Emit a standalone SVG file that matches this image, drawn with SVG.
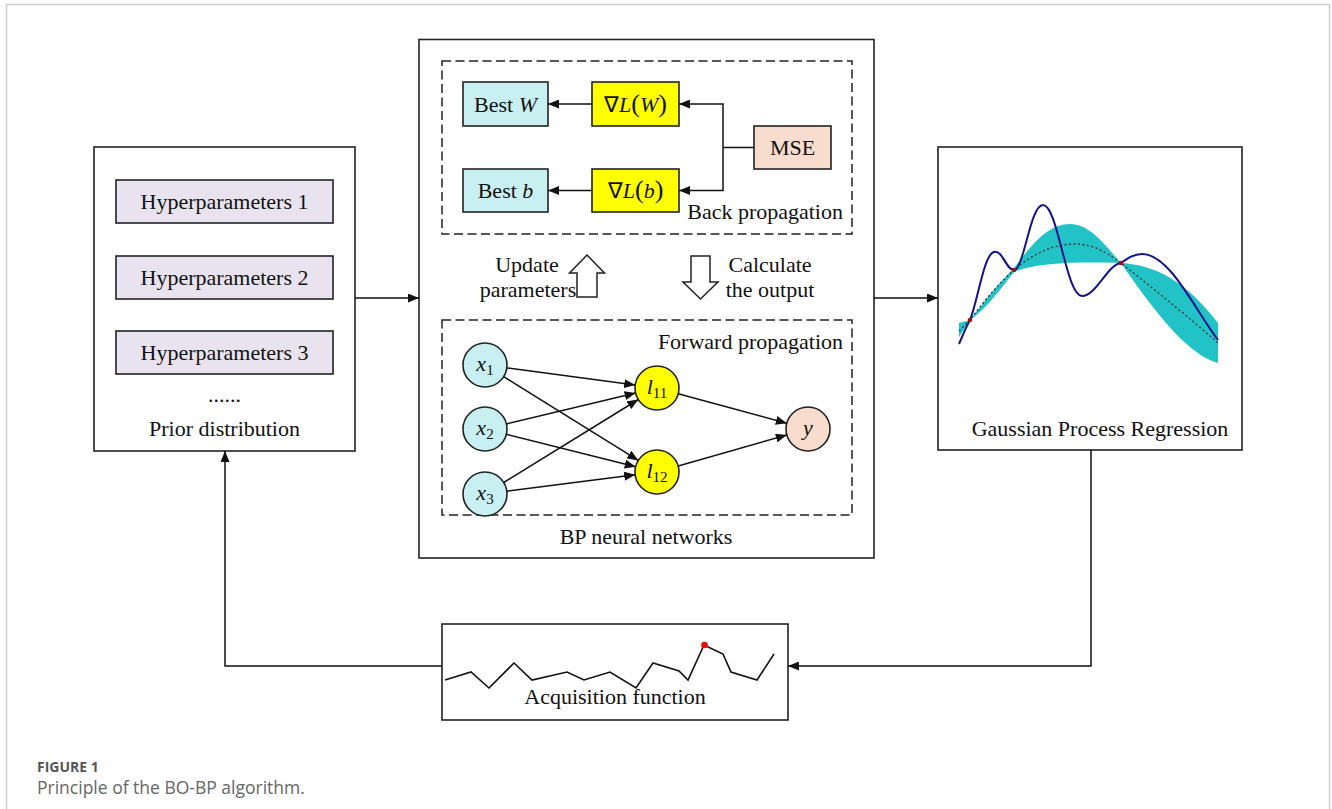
<svg xmlns="http://www.w3.org/2000/svg" width="1332" height="809" viewBox="0 0 1332 809">
<defs>
<style>
.t{font-family:"Liberation Serif","Times New Roman",serif;font-size:22px;fill:#111;}
.m{text-anchor:middle;}
.e{text-anchor:end;}
.i{font-style:italic;}
.box{stroke:#222;stroke-width:1.6;}
.frame{fill:#fff;stroke:#222;stroke-width:1.6;}
.dash{fill:none;stroke:#222;stroke-width:1.5;stroke-dasharray:9,4.5;}
.c{fill:none;stroke:#111;stroke-width:1.5;}
.hp{fill:#e8e3ef;}
.cy{fill:#c8f0f2;}
.ye{fill:#ffff00;}
.pe{fill:#f8dccd;}
</style>
<marker id="ah" markerUnits="userSpaceOnUse" markerWidth="11" markerHeight="9" refX="11" refY="4.5" orient="auto">
<path d="M0,0 L11,4.5 L0,9 z" fill="#111"/>
</marker>
</defs>
<rect width="1332" height="809" fill="#fff"/>
<g id="page-frame">
<path d="M6.5,809 V4.5 H1329.5 V809" fill="none" stroke="#cfcfcf" stroke-width="1.6"/>
</g>

<g id="prior">
<rect class="frame" x="94" y="147" width="261" height="304"/>
<rect class="box hp" x="116" y="180" width="217" height="43"/>
<text class="t m" x="224.5" y="209">Hyperparameters 1</text>
<rect class="box hp" x="116" y="256" width="217" height="43"/>
<text class="t m" x="224.5" y="285">Hyperparameters 2</text>
<rect class="box hp" x="116" y="331" width="217" height="43"/>
<text class="t m" x="224.5" y="360">Hyperparameters 3</text>
<text class="t m" x="224.5" y="402">......</text>
<text class="t m" x="224.5" y="436">Prior distribution</text>
</g>

<g id="bp-network">
<rect class="frame" x="419" y="39.5" width="455" height="518.5"/>
<rect class="dash" x="442" y="61" width="410" height="173"/>
<rect class="dash" x="442" y="320" width="410" height="195"/>
<text class="t e" x="843" y="219">Back propagation</text>
<text class="t e" x="843" y="349">Forward propagation</text>
<text class="t m" x="646" y="544">BP neural networks</text>
<text class="t m" x="527" y="272">Update</text>
<text class="t m" x="528" y="297">parameters</text>
<text class="t m" x="770" y="272">Calculate</text>
<text class="t m" x="770" y="297">the output</text>
<polygon points="587,255 604.5,273 597,273 597,297 577,297 577,273 569.5,273" fill="#fff" stroke="#222" stroke-width="1.5"/>
<polygon points="691,256 710,256 710,282 718,282 700.5,299 683,282 691,282" fill="#fff" stroke="#222" stroke-width="1.5"/>
</g>

<g id="best-w">
<rect class="box cy" x="463" y="82" width="85" height="44"/>
<text class="t m" x="505.5" y="112">Best <tspan class="i">W</tspan></text>
</g>
<g id="grad-w">
<rect class="box ye" x="592" y="82" width="87" height="44"/>
<text class="t m" x="635.5" y="112" font-size="23">∇<tspan class="i">L</tspan><tspan font-size="26">(</tspan><tspan class="i">W</tspan><tspan font-size="26">)</tspan></text>
</g>
<g id="best-b">
<rect class="box cy" x="463" y="169" width="85" height="43"/>
<text class="t m" x="505.5" y="198">Best <tspan class="i">b</tspan></text>
</g>
<g id="grad-b">
<rect class="box ye" x="592" y="169" width="87" height="43"/>
<text class="t m" x="635.5" y="198" font-size="23">∇<tspan class="i">L</tspan><tspan font-size="26">(</tspan><tspan class="i">b</tspan><tspan font-size="26">)</tspan></text>
</g>
<g id="mse">
<rect class="box pe" x="754" y="126" width="77" height="43"/>
<text class="t m" x="792.5" y="155">MSE</text>
</g>

<g id="x1"><circle class="box cy" cx="485" cy="365" r="22"/><text class="t m" x="485" y="371"><tspan class="i">x</tspan><tspan font-size="15" dy="4">1</tspan></text></g>
<g id="x2"><circle class="box cy" cx="485" cy="429" r="22"/><text class="t m" x="485" y="435"><tspan class="i">x</tspan><tspan font-size="15" dy="4">2</tspan></text></g>
<g id="x3"><circle class="box cy" cx="485" cy="494" r="22"/><text class="t m" x="485" y="500"><tspan class="i">x</tspan><tspan font-size="15" dy="4">3</tspan></text></g>
<g id="l11"><circle class="box ye" cx="657" cy="388" r="22"/><text class="t m" x="657" y="394"><tspan class="i">l</tspan><tspan font-size="15" dy="4">11</tspan></text></g>
<g id="l12"><circle class="box ye" cx="657" cy="472" r="22"/><text class="t m" x="657" y="478"><tspan class="i">l</tspan><tspan font-size="15" dy="4">12</tspan></text></g>
<g id="y"><circle class="box pe" cx="808" cy="429" r="22"/><text class="t m i" x="808" y="435">y</text></g>

<g id="gpr">
<rect class="frame" x="938" y="147" width="304" height="303"/>
<path d="M959,323 L970,320 C985,300 1000,282 1014,268 C1035,240 1050,224 1070,224 C1090,224 1105,245 1121,263 C1155,265 1185,280 1218,323 L1218,363 C1190,355 1160,320 1121,263 C1090,262 1040,261 1014,272 C1000,290 985,310 970,320 L959,337 Z" fill="#22c3c7"/>
<path d="M959,331 L970,320 C985,300 1000,282 1014,270 C1035,252 1055,244 1075,244 C1095,244 1110,255 1121,263 C1155,290 1190,318 1218,343" fill="none" stroke="#333" stroke-width="1.3" stroke-dasharray="2,2.5"/>
<path d="M959,344 C963,335 966,327 970,320 C978,300 984,254 994,252 C1003,250 1006,270 1014,270 C1024,270 1030,205 1043,205 C1058,205 1066,296 1082,296 C1096,296 1108,264 1121,263 C1128,258 1134,254 1142,254 C1170,254 1195,310 1218,340" fill="none" stroke="#14148a" stroke-width="2"/>
<circle cx="970" cy="320" r="2.3" fill="#a01010"/>
<circle cx="1014" cy="270" r="2.3" fill="#a01010"/>
<circle cx="1121" cy="263" r="2.3" fill="#a01010"/>
<text class="t m" x="1100" y="436">Gaussian Process Regression</text>
</g>

<g id="acquisition">
<rect class="frame" x="442" y="624" width="346" height="96"/>
<polyline points="445,680 471,672 489,688 514,663 532,680 567,672 584,680 610,672 636,688 653,663 679,671 688,680 704,645 723,654 731,672 757,680 774,654" fill="none" stroke="#111" stroke-width="1.6"/>
<circle cx="704.5" cy="645" r="3.3" fill="#ff0000"/>
<text class="t m" x="615" y="704">Acquisition function</text>
</g>

<g id="connectors">
<path class="c" d="M754,147.5 H723"/>
<path class="c" d="M723,147.5 V104 H679" marker-end="url(#ah)"/>
<path class="c" d="M723,147.5 V190.5 H679" marker-end="url(#ah)"/>
<path class="c" d="M592,104 H548" marker-end="url(#ah)"/>
<path class="c" d="M592,190.5 H548" marker-end="url(#ah)"/>
<path class="c" d="M506.8,367.9 L635.2,385.1" marker-end="url(#ah)"/>
<path class="c" d="M503.7,376.6 L638.3,460.4" marker-end="url(#ah)"/>
<path class="c" d="M506.4,423.9 L635.6,393.1" marker-end="url(#ah)"/>
<path class="c" d="M506.3,434.3 L635.7,466.7" marker-end="url(#ah)"/>
<path class="c" d="M503.7,482.5 L638.3,399.5" marker-end="url(#ah)"/>
<path class="c" d="M506.8,491.2 L635.2,474.8" marker-end="url(#ah)"/>
<path class="c" d="M678.2,393.8 L786.8,423.2" marker-end="url(#ah)"/>
<path class="c" d="M678.2,466 L786.8,435" marker-end="url(#ah)"/>
<path class="c" d="M355,298 H419" marker-end="url(#ah)"/>
<path class="c" d="M874,298 H938" marker-end="url(#ah)"/>
<path class="c" d="M1091,450 V666 H788" marker-end="url(#ah)"/>
<path class="c" d="M442,666 H225 V451" marker-end="url(#ah)"/>
</g>

<g id="caption">
<text x="37" y="772" font-family="'Open Sans','Noto Sans',sans-serif" font-size="14" font-weight="bold" fill="#555">FIGURE 1</text>
<text x="37" y="794" font-family="'Open Sans','Noto Sans',sans-serif" font-size="17.5" fill="#666">Principle of the BO-BP algorithm.</text>
</g>
</svg>
